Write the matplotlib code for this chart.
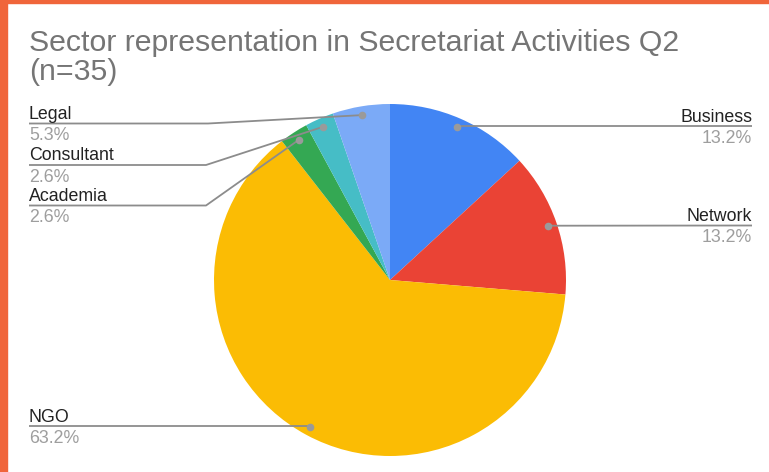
import numpy as np
import matplotlib
matplotlib.use("Agg")
import matplotlib.pyplot as plt
from matplotlib.patches import Rectangle

# ---- data ----
categories = ["Business", "Network", "NGO", "Academia", "Consultant", "Legal"]
counts = [5, 5, 24, 1, 1, 2]
colors = ["#4285F4", "#EA4335", "#FBBC04", "#34A853", "#46BDC6", "#7BAAF7"]
title_line1 = "Sector representation in Secretariat Activities Q2"
title_line2 = "(n=35)"

# ---- layout (pixel space, y measured from top) ----
W, H = 769, 472
CX, CY, R = 390, 280, 176
DOT_FRAC = 0.95
# label side, label line y, elbow x (None = straight)
label_layout = {
    "Business":   ("right", 126, None),
    "Network":    ("right", 225.5, None),
    "NGO":        ("left", 426, None),
    "Academia":   ("left", 205.5, 206),
    "Consultant": ("left", 165, 206),
    "Legal":      ("left", 123.5, 208),
}
LEFT_X, RIGHT_X = 29, 752

plt.rcParams['font.family'] = ['Liberation Sans', 'DejaVu Sans']

fig = plt.figure(figsize=(W / 100, H / 100), dpi=100)
fig.patch.set_facecolor("white")
ax = fig.add_axes([0, 0, 1, 1])
ax.set_xlim(0, W)
ax.set_ylim(0, H)
ax.axis("off")

def Y(y):
    return H - y

wedges, _ = ax.pie(counts, colors=colors, startangle=90, counterclock=False,
                   center=(CX, Y(CY)), radius=R, frame=True,
                   wedgeprops=dict(linewidth=0, antialiased=True))
ax.set_xlim(0, W)
ax.set_ylim(0, H)
ax.set_aspect("equal")
ax.axis("off")

total = sum(counts)
line_col = "#8c8c8c"
for w, cat, c in zip(wedges, categories, counts):
    mid = np.deg2rad((w.theta1 + w.theta2) / 2)
    dx = CX + DOT_FRAC * R * np.cos(mid)
    dy = Y(CY) + DOT_FRAC * R * np.sin(mid)
    side, ly, elbow = label_layout[cat]
    ly_d = Y(ly)
    if side == "right":
        xs = [dx, RIGHT_X]
        ys = [dy, ly_d]
        if abs(dy - ly_d) > 0.5:
            xs = [dx, dx + 5, RIGHT_X]
            ys = [dy, ly_d, ly_d]
        tx, ha = RIGHT_X, "right"
    else:
        if elbow is None:
            xs = [dx, LEFT_X]
            ys = [ly_d, ly_d]
        else:
            xs = [dx, elbow, LEFT_X]
            ys = [dy, ly_d, ly_d]
        tx, ha = LEFT_X, "left"
    ax.plot(xs, ys, color=line_col, lw=1.3, solid_capstyle="butt", zorder=3)
    ax.plot([dx], [dy], "o", color="#9a9a9a", ms=5.5, mec="none", zorder=4)
    ax.text(tx, ly_d + 4.5, cat, ha=ha, va="baseline", fontsize=12.8,
            color="#222222", zorder=5)
    ax.text(tx, ly_d - 17, f"{100 * c / total:.1f}%", ha=ha, va="baseline",
            fontsize=12.8, color="#9e9e9e", zorder=5)

ax.text(29, Y(51), title_line1, ha="left", va="baseline", fontsize=21.8,
        color="#757575")
ax.text(29, Y(80), title_line2, ha="left", va="baseline", fontsize=21.8,
        color="#757575")

# orange frame edges
orange = "#F0653A"
fig.patches.append(Rectangle((0, 0), 7 / W, 1, transform=fig.transFigure,
                             color=orange, zorder=10))
fig.patches.append(Rectangle((0, 1 - 3 / H), 1, 3 / H, transform=fig.transFigure,
                             color=orange, zorder=10))

fig.savefig("out.png", dpi=100)
